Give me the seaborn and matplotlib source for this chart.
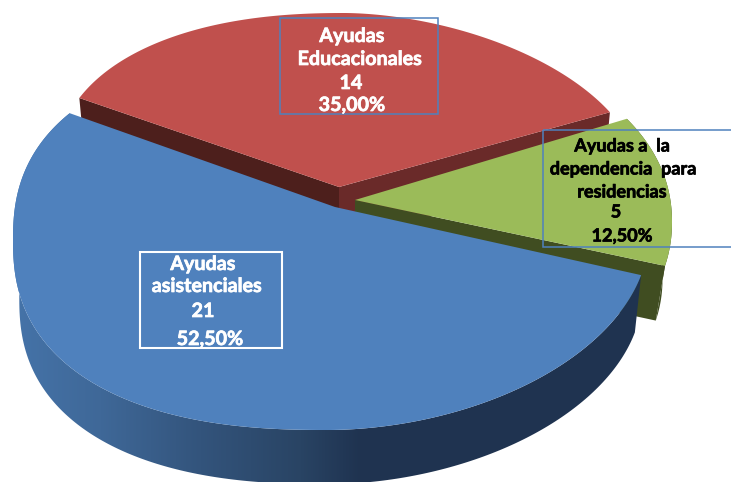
import numpy as np
import matplotlib
matplotlib.use("Agg")
import matplotlib.pyplot as plt
import matplotlib.colors as mcolors
import matplotlib.patheffects as pe
from matplotlib.patches import Polygon, Rectangle
from matplotlib.path import Path
from matplotlib.transforms import Transform, Affine2D
import seaborn as sns

# ---- data ----
categories = ["Ayudas asistenciales", "Ayudas a la dependencia para residencias", "Ayudas Educacionales"]
values = [21, 5, 14]
label_lines = [["Ayudas", "asistenciales"],
               ["Ayudas a  la", "dependencia  para", "residencias"],
               ["Ayudas", "Educacionales"]]

# ---- style ----
top_colors = ["#4f81bd", "#9bbb59", "#c0504d"]
cut_colors = ["#1f3350", "#404d21", "#4d1f1c"]
cut_right_red = "#6a2a29"
text_colors = ["white", "black", "white"]
box_colors = ["white", "#4f81bd", "#4f81bd"]
font_sizes = [14.2, 13.0, 14.2]
start_angle = 151

# look of each slice on the tilted disc
looks = [
    dict(apex=(335, 207), centre=(328, 240), rx_left=315, rx_right=320, ry=190, n_left=2.4, n_right=1.9,
         t_mid=245.2, stretch=1.092, shrink=.98, depth=58),
    dict(apex=(355, 200), centre=(357, 222), rx_left=315, rx_right=315, ry=190, n_left=2.1, n_right=2.1,
         t_mid=9.7, stretch=.982, shrink=.97, depth=56),
    dict(apex=(339, 187), centre=(344, 170), rx_left=288, rx_right=294, ry=157, n_left=2.25, n_right=1.8,
         t_mid=89.7, stretch=1.043, shrink=.98, depth=55),
]
# label boxes: x0, y0, x1, y1 and the line centres
boxes = [(140, 252, 282, 348), (543, 130, 740, 247), (280, 18, 438, 114)]
line_pos = [
    [(203, 264), (207, 286), (203, 311), (210, 339)],
    [(622, 146), (623, 169), (622, 192), (616, 212), (622, 236)],
    [(352, 36), (360, 59), (351, 83), (352, 105)],
]

sns.set_theme(style="white")
plt.rcParams["font.family"] = ["Lato", "DejaVu Sans"]
palette = sns.color_palette(top_colors)


def rim(t, look):
    t = np.radians(t)
    c, s = np.cos(t), np.sin(t)
    e = np.where(c < 0, 2 / look["n_left"], 2 / look["n_right"])
    rx = np.where(c < 0, look["rx_left"], look["rx_right"])
    return np.column_stack([
        look["centre"][0] + rx * np.sign(c) * np.abs(c) ** e,
        look["centre"][1] - look["ry"] * np.sign(s) * np.abs(s) ** e,
    ])


class SliceTransform(Transform):
    input_dims = output_dims = 2
    is_separable = False
    has_inverse = False

    def __init__(self, look, theta_mid):
        super().__init__()
        self.look, self.theta_mid = look, theta_mid

    def transform_non_affine(self, values):
        values = np.asarray(values, float)
        rho = np.hypot(values[:, 0], values[:, 1])
        th = np.degrees(np.arctan2(values[:, 1], values[:, 0]))
        d = (th - self.theta_mid + 180) % 360 - 180
        t = self.look["t_mid"] + self.look["stretch"] * d
        apex = np.array(self.look["apex"], float)
        return apex + rho[:, None] * (rim(t, self.look) - apex)

    def transform_path_non_affine(self, path):
        scaled = path.transformed(Affine2D().scale(3000))
        poly = scaled.to_polygons(closed_only=True)[0] / 3000
        return Path(self.transform_non_affine(poly), closed=True)


fig = plt.figure(figsize=(7.31, 4.82), dpi=100)
ax = fig.add_axes([0, 0, 1, 1])

wedges, _ = ax.pie(values, colors=palette, startangle=start_angle, counterclock=True, radius=1)

spans = []
for w, look in zip(wedges, looks):
    mid = (w.theta1 + w.theta2) / 2
    w.set_transform(SliceTransform(look, mid) + ax.transData)
    half = look["stretch"] * (w.theta2 - w.theta1) / 2
    spans.append((look["t_mid"] - half, look["t_mid"] + half))
    w.set_edgecolor("none")


def lower(pts, look):
    c = np.array(look["centre"], float)
    return c + look["shrink"] * (pts - c) + np.array([0, look["depth"]])


def side_polygon(t0, t1, look):
    top = rim(np.linspace(t0, t1, 240), look)
    return np.vstack([top, lower(top, look)[::-1]])


def cut_face(t, look):
    a = np.array([look["apex"]], float)
    r = rim(np.array([t]), look)
    return np.vstack([a, r, lower(r, look), a + [0, look["depth"]]])


blue, green, red = 0, 1, 2
# red slice: two cut faces, behind everything
ax.add_patch(Polygon(cut_face(spans[red][1], looks[red]), fc=cut_colors[red], ec="none", zorder=1))
ax.add_patch(Polygon(cut_face(spans[red][0], looks[red]), fc=cut_right_red, ec="none", zorder=1))
wedges[red].set_zorder(2)

# green slice
ax.add_patch(Polygon(side_polygon(*spans[green], looks[green]), fc=cut_colors[green], ec="none", zorder=3))
ax.add_patch(Polygon(cut_face(spans[green][0], looks[green]), fc=cut_colors[green], ec="none", zorder=3))
wedges[green].set_zorder(4)

# blue slice: outer wall with a horizontal gradient
stop_x = [0, 100, 200, 300, 360, 731]
stop_c = ["#4675ab", "#3f6898", "#33547c", "#294464", "#1f3350", "#1f3350"]
rgb = np.array([mcolors.to_rgb(c) for c in stop_c])
xs = np.arange(731)
grad = np.stack([np.interp(xs, stop_x, rgb[:, i]) for i in range(3)], axis=-1)[None, :, :]
wall = Polygon(side_polygon(*spans[blue], looks[blue]), transform=ax.transData, fc="none", ec="none")
im = ax.imshow(grad, extent=[0, 731, 482, 0], aspect="auto", zorder=5)
im.set_clip_path(wall)
wedges[blue].set_zorder(6)

ax.set_aspect("auto")
ax.set_xlim(0, 731)
ax.set_ylim(482, 0)
ax.axis("off")

# labels
total = sum(values)
for i, v in enumerate(values):
    x0, y0, x1, y1 = boxes[i]
    ax.add_patch(Rectangle((x0, y0), x1 - x0, y1 - y0, fill=False, ec=box_colors[i],
                           lw=1.5 if i == 0 else 1.1, zorder=8))
    pct = f"{v / total * 100:.2f}".replace(".", ",") + "%"
    lines = label_lines[i] + [str(v), pct]
    for line, (lx, ly) in zip(lines, line_pos[i]):
        ax.text(lx, ly, line, ha="center", va="center", fontsize=font_sizes[i], fontweight="bold",
                color=text_colors[i], zorder=9,
                path_effects=[pe.withStroke(linewidth=0.5, foreground=text_colors[i])])

fig.savefig("out.png", dpi=100, facecolor="white")
